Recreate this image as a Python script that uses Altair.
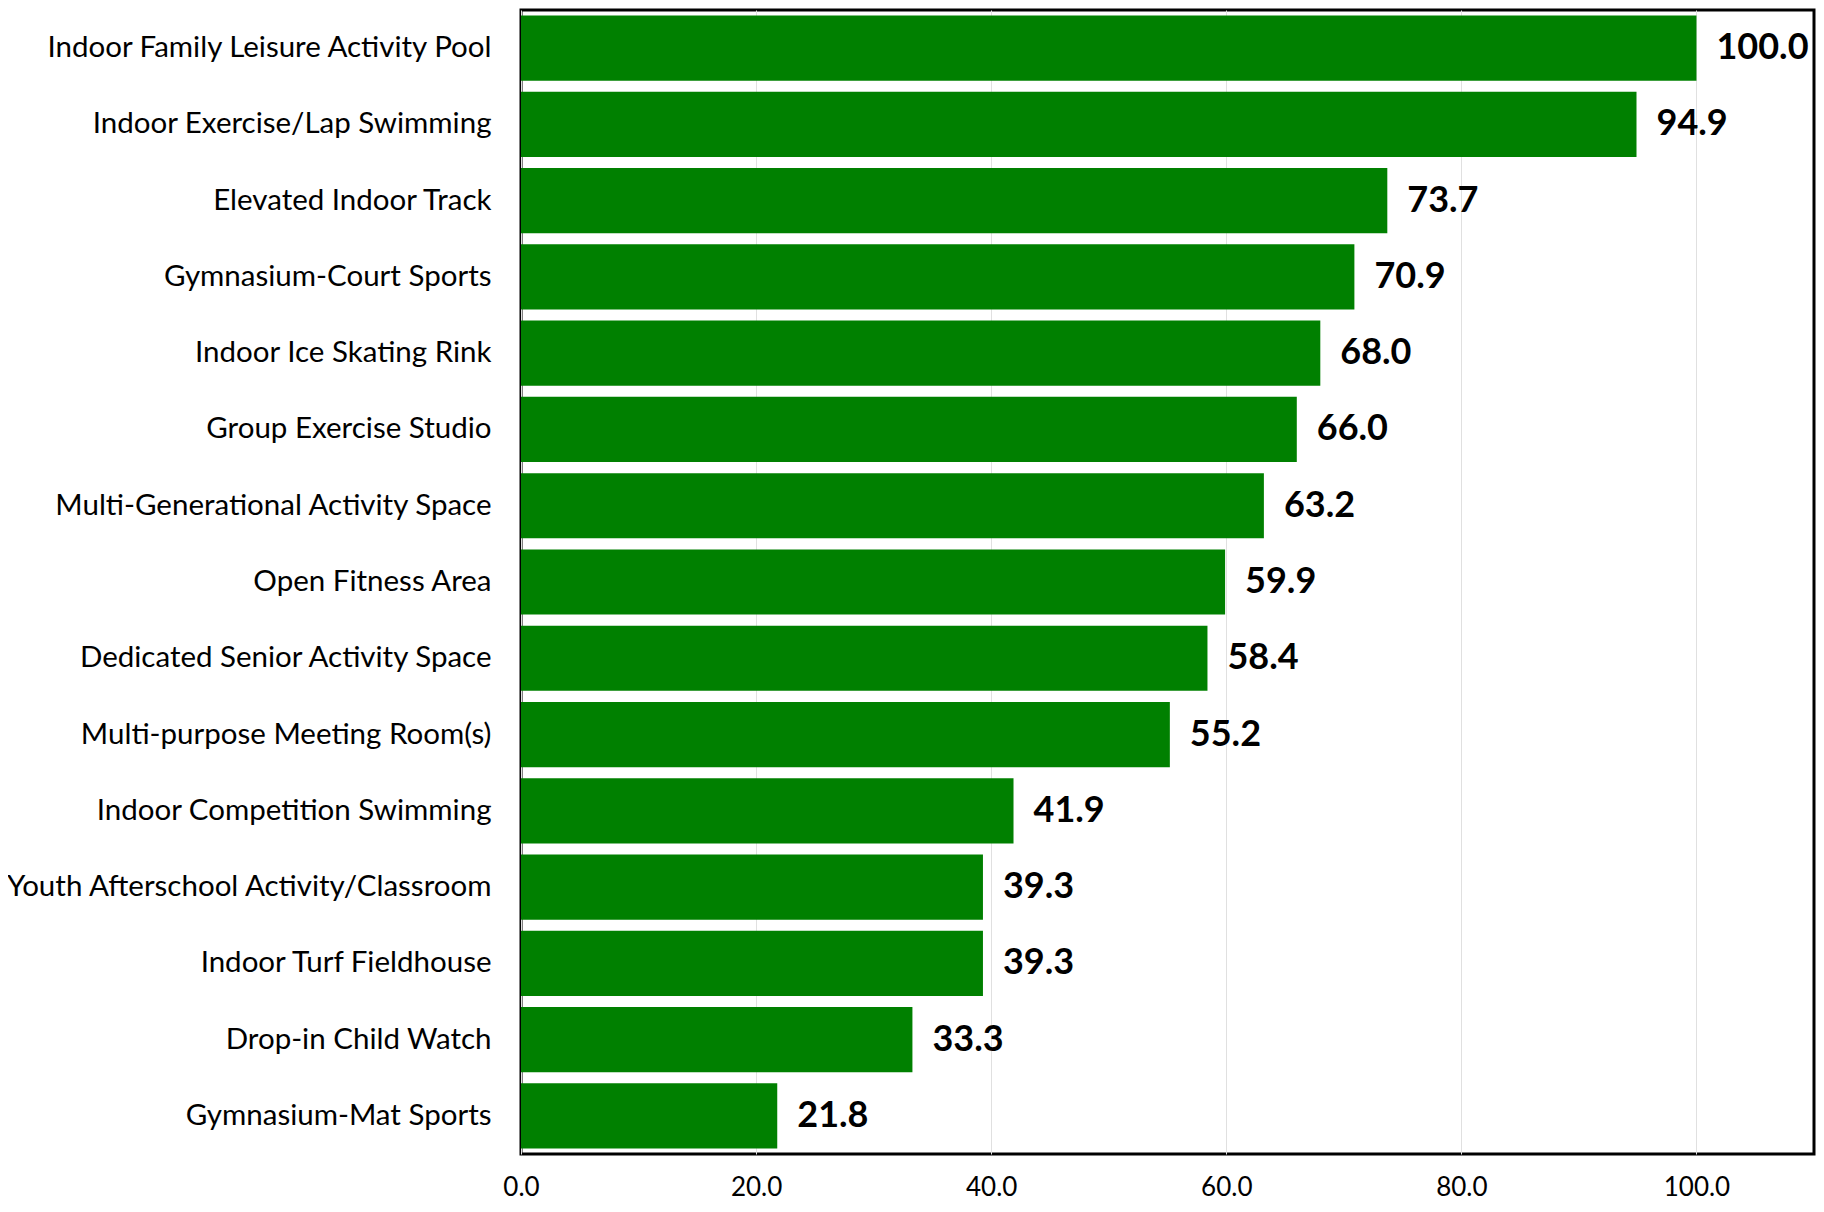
import altair as alt
import pandas as pd

categories = [
    "Indoor Family Leisure Activity Pool",
    "Indoor Exercise/Lap Swimming",
    "Elevated Indoor Track",
    "Gymnasium-Court Sports",
    "Indoor Ice Skating Rink",
    "Group Exercise Studio",
    "Multi-Generational Activity Space",
    "Open Fitness Area",
    "Dedicated Senior Activity Space",
    "Multi-purpose Meeting Room(s)",
    "Indoor Competition Swimming",
    "Youth Afterschool Activity/Classroom",
    "Indoor Turf Fieldhouse",
    "Drop-in Child Watch",
    "Gymnasium-Mat Sports",
]
values = [100.0, 94.9, 73.7, 70.9, 68.0, 66.0, 63.2, 59.9, 58.4, 55.2,
          41.9, 39.3, 39.3, 33.3, 21.8]
x_ticks = [0, 20, 40, 60, 80, 100]

df = pd.DataFrame({"category": categories, "value": values})

FONT = "Lato"

y_enc = alt.Y(
    "category:N",
    sort=categories,
    title=None,
    scale=alt.Scale(paddingInner=0.145, paddingOuter=0.0725),
    axis=alt.Axis(
        ticks=False,
        domain=False,
        labelFont=FONT,
        labelFontSize=29.5,
        labelColor="#000000",
        labelPadding=30,
        labelLimit=600,
    ),
)
x_enc = alt.X(
    "value:Q",
    title=None,
    scale=alt.Scale(domain=[0, 110], nice=False),
    axis=alt.Axis(
        values=x_ticks,
        format=".1f",
        ticks=False,
        domain=False,
        grid=True,
        gridColor="#e0e0e0",
        gridWidth=1,
        labelFont=FONT,
        labelFontSize=26,
        labelColor="#000000",
        labelPadding=20,
        labelFlush=False,
    ),
)

bars = alt.Chart(df).mark_bar(color="#008000").encode(x=x_enc, y=y_enc)

labels = alt.Chart(df).mark_text(
    align="left",
    baseline="middle",
    dx=20,
    font=FONT,
    fontSize=36,
    fontWeight="bold",
    color="#000000",
).encode(
    x=alt.X("value:Q"),
    y=alt.Y("category:N", sort=categories),
    text=alt.Text("value:Q", format=".1f"),
)

chart = (
    alt.layer(bars, labels)
    .properties(
        width=1293,
        height=1144,
        background="#ffffff",
        autosize=alt.AutoSizeParams(type="none"),
        padding={"left": 513, "top": 2, "right": 2, "bottom": 50},
    )
    .configure_view(stroke="#000000", strokeWidth=3)
)

chart.save("out.html", embed_options={"renderer": "svg", "actions": False})
